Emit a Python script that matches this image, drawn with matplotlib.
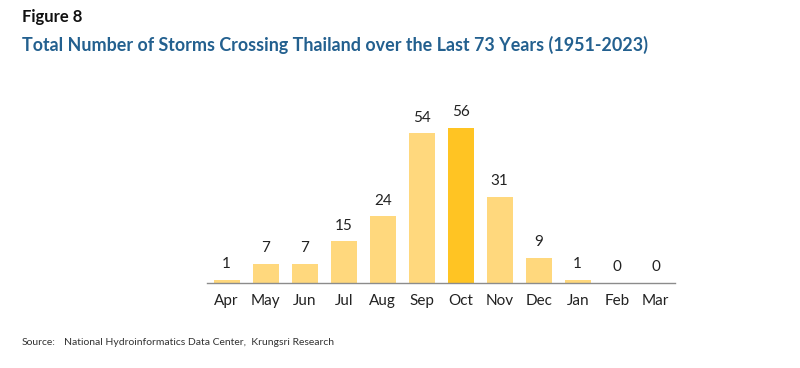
import matplotlib
matplotlib.use("Agg")
import matplotlib.pyplot as plt

months = ["Apr", "May", "Jun", "Jul", "Aug", "Sep", "Oct", "Nov", "Dec", "Jan", "Feb", "Mar"]
storms = [1, 7, 7, 15, 24, 54, 56, 31, 9, 1, 0, 0]
highlight = "Oct"

plt.rcParams['font.family'] = ['Lato', 'DejaVu Sans']

fig = plt.figure(figsize=(8, 3.68), dpi=100)
ax = fig.add_axes([0.259, 0.231, 0.585, 0.527])

colors = ["#FFC423" if m == highlight else "#FFD87D" for m in months]
x = range(len(months))
bars = ax.bar(x, storms, width=0.67, color=colors)
for xi, v in zip(x, storms):
    ax.text(xi, v + 3.2, str(v), ha="center", va="bottom", fontsize=11, color="#222222")

ax.set_xlim(-0.5, len(months) - 0.5)
ax.set_ylim(0, 70)
ax.set_xticks(list(x))
ax.set_xticklabels(months, fontsize=11, color="#222222")
ax.tick_params(axis="x", length=0, pad=8)
ax.set_yticks([])
for s in ["top", "right", "left"]:
    ax.spines[s].set_visible(False)
ax.spines["bottom"].set_color("#8c8c8c")
ax.spines["bottom"].set_linewidth(1.0)

fig.text(0.027, 0.955, "Figure 8", fontsize=12, fontweight="bold", color="#111111", va="center")
fig.text(0.027, 0.878, "Total Number of Storms Crossing Thailand over the Last 73 Years (1951-2023)",
         fontsize=12.9, fontweight="bold", color="#23608F", va="center")
fig.text(0.027, 0.07, "Source:", fontsize=7.5, color="#333333", va="center")
fig.text(0.08, 0.07, "National Hydroinformatics Data Center,  Krungsri Research",
         fontsize=7.5, color="#333333", va="center")

fig.savefig("out.png", dpi=100)
